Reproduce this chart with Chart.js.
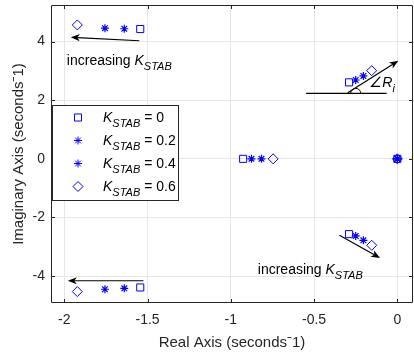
<!DOCTYPE html>
<html>
<head>
<meta charset="utf-8">
<script src="https://cdn.jsdelivr.net/npm/chart.js@4/dist/chart.umd.min.js"></script>
<style>
html, body { margin: 0; padding: 0; background: #fff; }
</style>
</head>
<body>
<canvas id="poles" width="414" height="358"></canvas>
<script>
const kStab = ['0', '0.2', '0.4', '0.6'];
const realK0 = [-1.544, -1.544, -0.926, 0, -0.290, -0.290];
const imagK0 = [4.43, -4.39, 0, 0, 2.61, -2.57];
const realK02 = [-1.640, -1.640, -0.876, 0, -0.250, -0.250];
const imagK02 = [4.44, -4.42, 0, 0, 2.69, -2.63];
const realK04 = [-1.756, -1.756, -0.816, 0, -0.204, -0.204];
const imagK04 = [4.46, -4.45, 0, 0, 2.83, -2.78];
const realK06 = [-1.922, -1.922, -0.746, 0, -0.154, -0.154];
const imagK06 = [4.57, -4.53, 0, 0, 3.01, -2.95];

const xTicks = [-2, -1.5, -1, -0.5, 0];
const yTicks = [-4, -2, 0, 2, 4];

const BLUE = 'rgb(0,0,255)';
const INK = '#262626';
const FONT = '"Liberation Sans", Arial, sans-serif';
const markers = ['rect', 'star', 'star', 'rectRot'];
const radii = [5, 4, 4, 5];

function pts(re, im) {
    return re.map((x, i) => ({ x: x, y: im[i] }));
}

// draw text made of pieces (normal / italic / subscript)
function richText(ctx, x, y, parts) {
    parts.forEach(p => {
        ctx.font = p.font;
        ctx.fillText(p.t, x, y + (p.dy || 0));
        x += ctx.measureText(p.t).width;
    });
}

function arrow(ctx, x0, y0, x1, y1) {
    const ang = Math.atan2(y1 - y0, x1 - x0);
    const L = 9, W = 3.6, notch = 2.5;
    ctx.beginPath();
    ctx.moveTo(x0, y0);
    ctx.lineTo(x1 - Math.cos(ang) * (L - notch), y1 - Math.sin(ang) * (L - notch));
    ctx.stroke();
    ctx.save();
    ctx.translate(x1, y1);
    ctx.rotate(ang);
    ctx.beginPath();
    ctx.moveTo(0, 0);
    ctx.lineTo(-L, -W);
    ctx.lineTo(-L + notch, 0);
    ctx.lineTo(-L, W);
    ctx.closePath();
    ctx.fill();
    ctx.restore();
}

const kLabel = (tail) => [
    { t: 'K', font: 'italic 14px ' + FONT },
    { t: 'STAB', font: 'italic 11px ' + FONT, dy: 5 },
    { t: tail, font: '14px ' + FONT }
];

// box, inward ticks
const frame = {
    id: 'frame',
    beforeDatasetsDraw(chart) {
        const { ctx, chartArea: a, scales: { x, y } } = chart;
        ctx.save();
        ctx.strokeStyle = INK;
        ctx.lineWidth = 1;
        ctx.beginPath();
        ctx.rect(a.left + 0.5, a.top + 0.5, a.right - a.left - 1, a.bottom - a.top - 1);
        xTicks.forEach(v => {
            const px = Math.round(x.getPixelForValue(v)) + 0.5;
            ctx.moveTo(px, a.bottom); ctx.lineTo(px, a.bottom - 4);
            ctx.moveTo(px, a.top); ctx.lineTo(px, a.top + 4);
        });
        yTicks.forEach(v => {
            const py = Math.round(y.getPixelForValue(v)) + 0.5;
            ctx.moveTo(a.left, py); ctx.lineTo(a.left + 4, py);
            ctx.moveTo(a.right, py); ctx.lineTo(a.right - 4, py);
        });
        ctx.stroke();
        ctx.restore();
    }
};

// arrows and annotation text, placed in axis units
const notes = {
    id: 'notes',
    afterDatasetsDraw(chart) {
        const { ctx, scales: { x, y } } = chart;
        const X = v => x.getPixelForValue(v);
        const Y = v => y.getPixelForValue(v);
        ctx.save();
        ctx.strokeStyle = '#000';
        ctx.fillStyle = '#000';
        ctx.lineWidth = 1.2;
        arrow(ctx, X(-1.55), Y(4.03), X(-1.961), Y(4.15));
        arrow(ctx, X(-1.525), Y(-4.16), X(-1.979), Y(-4.16));
        arrow(ctx, X(-0.298), Y(2.256), X(0.006), Y(3.35));
        arrow(ctx, X(-0.348), Y(-2.61), X(-0.104), Y(-3.38));
        ctx.beginPath();
        ctx.moveTo(X(-0.548), Y(2.236));
        ctx.lineTo(X(-0.064), Y(2.236));
        ctx.stroke();
        ctx.lineWidth = 1;
        ctx.beginPath();
        ctx.arc(X(-0.25), Y(2.236), 5, Math.PI, 2 * Math.PI);
        ctx.stroke();
        ctx.textBaseline = 'alphabetic';
        ctx.textAlign = 'left';
        richText(ctx, X(-1.985), Y(3.20), [{ t: 'increasing ', font: '14px ' + FONT }].concat(kLabel('')));
        richText(ctx, X(-0.838), Y(-3.92), [{ t: 'increasing ', font: '14px ' + FONT }].concat(kLabel('')));
        richText(ctx, X(-0.168), Y(2.44), [
            { t: '\u2220R', font: 'italic 14px ' + FONT },
            { t: 'i', font: 'italic 11px ' + FONT, dy: 5 }
        ]);
        ctx.restore();
    }
};

// legend with subscripted labels
const keyBox = {
    id: 'keyBox',
    afterDraw(chart) {
        const { ctx, chartArea: a } = chart;
        const left = a.left + 1, top = 105, w = 126, h = 95;
        ctx.save();
        ctx.fillStyle = '#fff';
        ctx.strokeStyle = INK;
        ctx.lineWidth = 1;
        ctx.fillRect(left, top, w, h);
        ctx.strokeRect(left + 0.5, top + 0.5, w, h);
        kStab.forEach((k, i) => {
            const cy = top + 12.5 + i * 23;
            ctx.strokeStyle = BLUE;
            ctx.fillStyle = 'rgba(0,0,0,0)';
            Chart.helpers.drawPoint(ctx, {
                pointStyle: markers[i], radius: radii[i], rotation: 0,
                borderWidth: markers[i] === 'star' ? 1.2 : 1
            }, left + 26, cy);
            ctx.fillStyle = '#000';
            ctx.textBaseline = 'alphabetic';
            ctx.textAlign = 'left';
            richText(ctx, left + 51, cy + 4.5, kLabel(' = ' + k));
        });
        ctx.restore();
    }
};

// keep the plot box fixed: no extra room for end labels
function noPad(s) {
    s.paddingTop = 0; s.paddingBottom = 0; s.paddingLeft = 0; s.paddingRight = 0;
}

const series = [pts(realK0, imagK0), pts(realK02, imagK02), pts(realK04, imagK04), pts(realK06, imagK06)];

new Chart(document.getElementById('poles').getContext('2d'), {
    type: 'scatter',
    data: {
        datasets: series.map((d, i) => ({
            label: 'K_STAB = ' + kStab[i],
            data: d,
            pointStyle: markers[i],
            pointRadius: radii[i],
            pointHoverRadius: radii[i],
            borderColor: BLUE,
            backgroundColor: 'rgba(0,0,0,0)',
            pointBorderWidth: markers[i] === 'star' ? 1.2 : 1,
            showLine: false
        }))
    },
    options: {
        responsive: false,
        animation: false,
        devicePixelRatio: 1,
        layout: { autoPadding: false, padding: { left: 0, right: 1, top: 5, bottom: 0 } },
        plugins: { legend: { display: false }, tooltip: { enabled: false } },
        scales: {
            x: {
                type: 'linear',
                min: -2.08,
                max: 0.094,
                afterBuildTicks: s => { s.ticks = xTicks.map(v => ({ value: v })); },
                afterFit: s => { s.height = 55; noPad(s); },
                grid: { color: '#e6e6e6', drawTicks: false },
                border: { display: false },
                ticks: { color: INK, font: { family: FONT, size: 14 }, padding: 9, callback: v => String(v) },
                title: { display: true, text: 'Real Axis (seconds\u02C91)', color: INK, font: { family: FONT, size: 15 }, padding: { top: 0, bottom: 6 } }
            },
            y: {
                type: 'linear',
                min: -4.92,
                max: 5.25,
                afterBuildTicks: s => { s.ticks = yTicks.map(v => ({ value: v })); },
                afterFit: s => { s.width = 51; noPad(s); },
                grid: { color: '#e6e6e6', drawTicks: false },
                border: { display: false },
                ticks: { color: INK, font: { family: FONT, size: 14 }, padding: 6, callback: v => String(v) },
                title: { display: true, text: 'Imaginary Axis (seconds\u02C91)', color: INK, font: { family: FONT, size: 15 }, padding: { top: 10, bottom: 0 } }
            }
        }
    },
    plugins: [frame, notes, keyBox]
});
</script>
</body>
</html>
